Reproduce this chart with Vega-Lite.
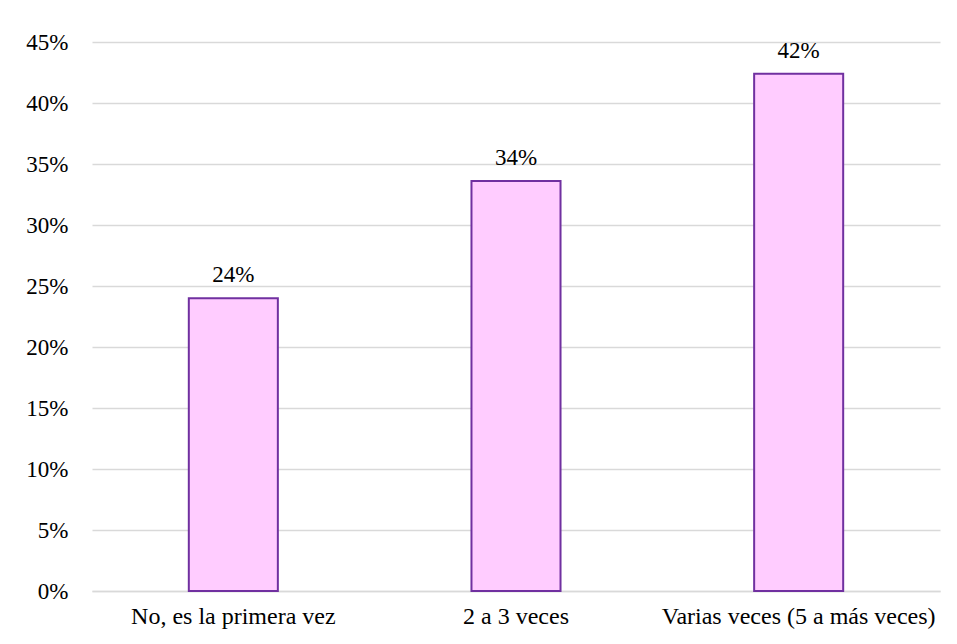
{
  "$schema": "https://vega.github.io/schema/vega-lite/v6.json",
  "autosize": {"type": "none"},
  "width": 848,
  "height": 549,
  "padding": {"left": 92, "top": 42, "right": 17, "bottom": 53},
  "background": "white",
  "data": {
    "values": [
      {"categoria": "No, es la primera vez", "pct": 0.240},
      {"categoria": "2 a 3 veces", "pct": 0.336},
      {"categoria": "Varias veces (5 a más veces)", "pct": 0.424}
    ]
  },
  "encoding": {
    "x": {
      "field": "categoria",
      "type": "nominal",
      "sort": null,
      "scale": {"paddingInner": 0.685, "paddingOuter": 0.3425},
      "axis": {
        "title": null,
        "labelAngle": 0,
        "labelLimit": 0,
        "ticks": false,
        "domain": true,
        "domainColor": "#D9D9D9",
        "domainWidth": 1.5,
        "labelPadding": 13,
        "labelFont": "Times New Roman, Liberation Serif, serif",
        "labelFontSize": 24,
        "labelColor": "#000000"
      }
    },
    "y": {
      "field": "pct",
      "type": "quantitative",
      "scale": {"domain": [0, 0.45], "nice": false},
      "axis": {
        "title": null,
        "format": ".0%",
        "values": [0, 0.05, 0.1, 0.15, 0.2, 0.25, 0.3, 0.35, 0.4, 0.45],
        "grid": true,
        "gridColor": "#D9D9D9",
        "gridWidth": 1.5,
        "domain": false,
        "ticks": false,
        "labelPadding": 24,
        "labelFont": "Times New Roman, Liberation Serif, serif",
        "labelFontSize": 23,
        "labelColor": "#000000"
      }
    }
  },
  "layer": [
    {
      "mark": {"type": "bar", "fill": "#FFCCFF", "stroke": "#7030A0", "strokeWidth": 2}
    },
    {
      "mark": {
        "type": "text",
        "baseline": "alphabetic",
        "dy": -16,
        "font": "Times New Roman, Liberation Serif, serif",
        "fontSize": 23,
        "color": "#000000"
      },
      "encoding": {
        "text": {"field": "pct", "type": "quantitative", "format": ".0%"}
      }
    }
  ],
  "config": {
    "view": {"stroke": null}
  }
}
